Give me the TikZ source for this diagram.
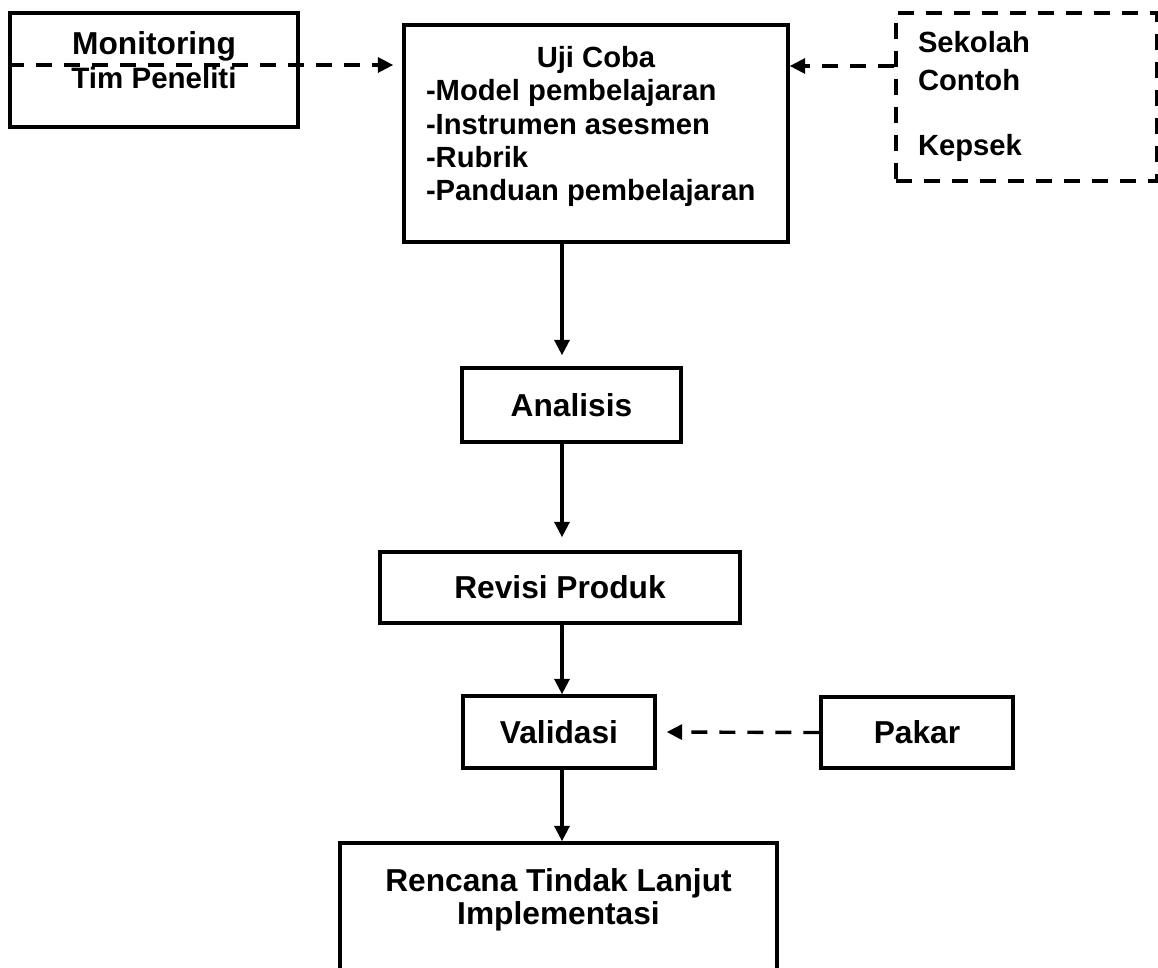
\documentclass[tikz,border=0pt]{standalone}
\usepackage{fontspec}
\setmainfont{Liberation Sans}
\usetikzlibrary{arrows.meta}
\newcommand{\bigtext}{\fontsize{15.85pt}{16.5pt}\selectfont}
\newcommand{\smalltext}{\fontsize{14.6pt}{16.65pt}\selectfont}
\begin{document}
\begin{tikzpicture}[x=.5pt,y=-.5pt,>={Triangle[length=7.75pt,width=7.5pt]},line width=1.7pt,font=\bfseries\bigtext,
  box/.style={draw,rectangle,inner sep=0pt},
  dashline/.style={dash pattern=on 8pt off 6pt}]
  \useasboundingbox (0,0) rectangle (1158,968);
  \coordinate (axis) at (562,0);
  \node[box,minimum width=144pt,minimum height=57pt] (mon) at (154,70)
    {\parbox[t][57pt][t]{144pt}{\centering\vspace*{9.35pt}Monitoring\\\fontsize{14.75pt}{17.15pt}\selectfont Tim Peneliti}};
  \node[box,minimum width=192pt,minimum height=108.5pt] (uji) at (596,133.5)
    {\parbox[t][108.5pt][t]{170pt}{\smalltext\vspace*{10.75pt}\makebox[170pt]{Uji Coba}\\-Model pembelajaran\\-Instrumen asesmen\\-Rubrik\\-Panduan pembelajaran}};
  \node[box,dashline,minimum width=130.5pt,minimum height=84pt] (skl) at (1026.5,97)
    {\parbox[t][84pt][t]{108.5pt}{\fontsize{14.6pt}{19pt}\selectfont\raggedright\vspace*{9.35pt}Sekolah\\Contoh\\[13.5pt]Kepsek}};
  \node[box,minimum width=109.5pt,minimum height=37pt] (ana) at (571.5,405) {Analisis};
  \node[box,minimum width=180pt,minimum height=35.5pt] (rev) at (560,587.5) {Revisi Produk};
  \node[box,minimum width=96pt,minimum height=36pt] (val) at (559,732) {Validasi};
  \node[box,minimum width=96pt,minimum height=35.5pt] (pak) at (917,732.5) {Pakar};
  \node[box,minimum width=218.5pt,minimum height=80pt] (rtl) at (558.5,923)
    {\parbox[t][80pt][t]{218.5pt}{\centering\vspace*{12.85pt}Rencana Tindak Lanjut\\Implementasi}};
  \coordinate (monout) at ([yshift=2.5pt]mon.west);
  \coordinate (sklout) at ([yshift=15.5pt]skl.west);
  \draw[dashline,->,shorten >=4.5pt] (monout) -- (monout -| uji.west);
  \draw[dashline,->] (sklout) -- (sklout -| uji.east);
  \draw[dashline,->,shorten >=5pt] (pak.west) -- (val.east);
  \draw[->,shorten >=5.5pt] (axis |- uji.south) -- (axis |- ana.north);
  \draw[->,shorten >=6.5pt] (axis |- ana.south) -- (axis |- rev.north);
  \draw[->] (axis |- rev.south) -- (axis |- val.north);
  \draw[->] (axis |- val.south) -- (axis |- rtl.north);
\end{tikzpicture}
\end{document}
